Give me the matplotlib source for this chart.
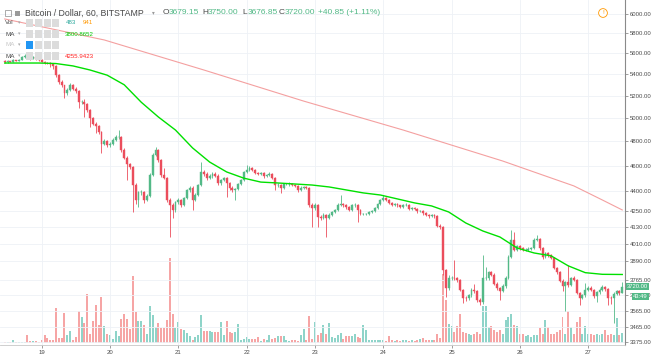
import numpy as np
import pandas as pd
import matplotlib
matplotlib.use("Agg")
import matplotlib.pyplot as plt
import matplotlib.dates as mdates
from matplotlib.patches import Rectangle
from matplotlib.ticker import FixedLocator, FuncFormatter, NullLocator

plt.rcParams['font.family'] = ['Liberation Sans', 'DejaVu Sans']

W, H = 653, 357

# hourly BTC/USD candles, 18 Nov 11:00 -> 27 Nov 12:00 (one row per day)
first_open = 5525
closes = [
    5515, 5525, 5520, 5535, 5530, 5540, 5560, 5570, 5555, 5550, 5560, 5548, 5540,
    5520, 5510, 5505, 5495, 5480, 5390, 5330, 5295, 5220, 5255, 5300, 5265, 5240, 5145, 5145, 5125, 5070, 5000, 4950, 4930, 4880, 4780, 4800, 4770,
    4780, 4810, 4835, 4835, 4730, 4665, 4610, 4590, 4450, 4330, 4390, 4390, 4330, 4365, 4525, 4685, 4725, 4645, 4525, 4500, 4330, 4295, 4255, 4315,
    4330, 4295, 4345, 4405, 4425, 4330, 4370, 4445, 4550, 4535, 4500, 4515, 4535, 4520, 4460, 4485, 4500, 4460, 4425, 4405, 4415, 4455, 4485, 4550,
    4565, 4580, 4565, 4540, 4535, 4540, 4515, 4525, 4535, 4500, 4445, 4445, 4425, 4455, 4455, 4455, 4445, 4440, 4405, 4425, 4430, 4425, 4295, 4270,
    4295, 4205, 4200, 4220, 4200, 4220, 4240, 4255, 4295, 4300, 4290, 4275, 4255, 4290, 4295, 4255, 4225, 4225, 4225, 4240, 4245, 4270, 4300, 4330,
    4345, 4330, 4310, 4295, 4300, 4290, 4280, 4295, 4295, 4265, 4270, 4265, 4245, 4245, 4230, 4220, 4210, 4220, 4210, 4140, 4130, 3830, 3710, 3775,
    3780, 3775, 3765, 3700, 3650, 3645, 3665, 3700, 3690, 3635, 3620, 3775, 3775, 3815, 3800, 3740, 3710, 3695, 3725, 3780, 3920, 4040, 3970, 3995,
    3980, 3970, 3970, 3975, 3980, 4040, 4045, 3980, 3920, 3945, 3930, 3915, 3845, 3815, 3760, 3725, 3750, 3730, 3775, 3765, 3680, 3650, 3665, 3700,
    3715, 3700, 3660, 3685, 3700, 3720, 3705, 3650, 3645, 3675, 3690, 3679.15, 3720,
]
highs = [
    5535, 5532, 5530, 5542, 5540, 5548, 5575, 5590, 5578, 5562, 5570, 5565, 5555,
    5548, 5528, 5520, 5512, 5500, 5485, 5400, 5345, 5300, 5270, 5312, 5310, 5275, 5250, 5165, 5170, 5135, 5080, 5010, 4965, 4940, 4890, 4820, 4810,
    4795, 4825, 4850, 4895, 4845, 4740, 4675, 4625, 4600, 4460, 4400, 4405, 4400, 4380, 4540, 4700, 4753, 4735, 4655, 4581, 4510, 4345, 4305, 4325,
    4345, 4340, 4355, 4415, 4440, 4435, 4385, 4455, 4629, 4565, 4545, 4530, 4548, 4545, 4530, 4495, 4512, 4510, 4470, 4435, 4425, 4465, 4495, 4560,
    4605, 4600, 4590, 4575, 4552, 4550, 4548, 4535, 4545, 4542, 4510, 4458, 4452, 4465, 4465, 4466, 4462, 4455, 4448, 4435, 4440, 4438, 4432, 4305,
    4305, 4300, 4215, 4230, 4228, 4230, 4250, 4265, 4305, 4369, 4310, 4298, 4282, 4300, 4305, 4302, 4262, 4235, 4235, 4248, 4255, 4280, 4310, 4340,
    4369, 4352, 4338, 4318, 4308, 4306, 4296, 4302, 4305, 4300, 4280, 4278, 4272, 4255, 4252, 4238, 4228, 4228, 4226, 4215, 4150, 4135, 3840, 3800,
    3790, 3899, 3785, 3772, 3708, 3660, 3675, 3712, 3740, 3698, 3645, 3933, 3852, 3825, 3825, 3808, 3748, 3718, 3735, 3790, 3930, 4109, 4094, 4005,
    4005, 3990, 3982, 3985, 3990, 4050, 4073, 4052, 3988, 3955, 3952, 3938, 3922, 3852, 3822, 3768, 3760, 3866, 3785, 3790, 3772, 3688, 3675, 3742,
    3728, 3722, 3708, 3695, 3712, 3732, 3728, 3712, 3660, 3685, 3700, 3698, 3750,
]
lows = [
    5505, 5508, 5512, 5515, 5522, 5525, 5535, 5552, 5545, 5540, 5545, 5540, 5530,
    5512, 5500, 5495, 5470, 5450, 5370, 5310, 5280, 5180, 5210, 5245, 5250, 5225, 5090, 5120, 5010, 5050, 4920, 4935, 4870, 4865, 4705, 4765, 4750,
    4755, 4770, 4800, 4820, 4715, 4650, 4485, 4570, 4240, 4300, 4278, 4370, 4310, 4320, 4355, 4515, 4675, 4630, 4510, 4490, 4315, 4059, 4197, 4240,
    4300, 4280, 4285, 4335, 4395, 4256, 4320, 4360, 4435, 4520, 4485, 4490, 4505, 4510, 4445, 4450, 4475, 4354, 4410, 4395, 4331, 4405, 4445, 4475,
    4540, 4555, 4555, 4530, 4525, 4528, 4505, 4508, 4515, 4490, 4408, 4430, 4385, 4415, 4445, 4442, 4435, 4430, 4395, 4398, 4415, 4415, 4280, 4131,
    4255, 4131, 4185, 4190, 4059, 4190, 4210, 4232, 4245, 4285, 4280, 4265, 4245, 4248, 4280, 4167, 4215, 4215, 4218, 4218, 4232, 4238, 4262, 4292,
    4322, 4320, 4300, 4285, 4288, 4280, 4270, 4272, 4285, 4255, 4258, 4255, 4235, 4238, 4222, 4212, 4200, 4202, 4200, 4130, 4115, 3800, 3654, 3700,
    3765, 3765, 3750, 3690, 3616, 3630, 3635, 3655, 3680, 3625, 3605, 3612, 3765, 3765, 3790, 3730, 3700, 3635, 3685, 3715, 3770, 3910, 3960, 3960,
    3970, 3960, 3960, 3962, 3965, 3972, 4030, 3970, 3905, 3910, 3920, 3905, 3835, 3805, 3750, 3690, 3565, 3720, 3722, 3755, 3672, 3600, 3640, 3655,
    3690, 3690, 3650, 3620, 3675, 3690, 3695, 3600, 3610, 3491, 3665, 3668, 3676.85,
]
volumes = [
    48, 52, 45, 140, 50, 41, 55, 47, 385, 95, 90, 100, 50,
    145, 380, 240, 150, 140, 1680, 245, 235, 1440, 390, 575, 150, 290, 1540, 1250, 960, 2350, 430, 1060, 1820, 865, 2210, 815, 430,
    385, 195, 575, 335, 1150, 1390, 1155, 670, 3215, 1490, 1055, 1060, 865, 430, 1775, 1345, 770, 960, 720, 725, 1105, 4080, 1390, 720,
    1010, 670, 625, 480, 335, 145, 290, 385, 1345, 575, 580, 575, 530, 525, 530, 1005, 385, 1055, 530, 480, 525, 910, 145, 190,
    290, 195, 190, 195, 285, 95, 190, 145, 385, 190, 240, 335, 340, 335, 145, 95, 145, 140, 95, 385, 670, 145, 1295, 195,
    1010, 385, 480, 865, 430, 960, 290, 240, 385, 480, 190, 335, 340, 335, 430, 290, 240, 865, 625, 145, 140, 145, 150, 140,
    145, 95, 335, 145, 95, 145, 95, 140, 145, 95, 150, 95, 145, 190, 240, 145, 140, 145, 150, 430, 240, 3310, 2065, 910,
    815, 530, 815, 1390, 525, 480, 430, 385, 435, 530, 430, 1775, 1780, 770, 815, 625, 530, 625, 430, 1105, 1250, 1390, 865, 815,
    430, 435, 335, 385, 290, 385, 380, 720, 430, 1105, 770, 430, 435, 530, 625, 1250, 430, 1535, 770, 430, 1010, 1250, 430, 815,
    430, 435, 385, 430, 385, 435, 625, 385, 430, 385, 1200, 385, 483,
]

# moving averages (candle index -> value)
ma_fast_idx = [0, 12, 18, 24, 30, 36, 42, 48, 54, 60, 66, 72, 78, 84, 90, 96, 102, 108, 114,
               120, 126, 132, 138, 144, 150, 156, 162, 168, 174, 180, 186, 192, 198, 204, 210, 217]
ma_fast = [5506, 5506, 5501, 5478, 5439, 5390, 5300, 5140, 5009, 4896, 4745, 4629, 4549, 4500,
           4469, 4462, 4454, 4446, 4431, 4408, 4385, 4369, 4339, 4309, 4286, 4241, 4160, 4102,
           4059, 3982, 3947, 3927, 3859, 3813, 3802, 3800.8652]
ma_slow_idx = [0, 35, 70, 105, 140, 175, 190, 200, 210, 217]
ma_slow = [5948, 5733, 5439, 5151, 4896, 4637, 4517, 4439, 4331, 4255.9423]

price_ticks = [3375, 3465, 3565, 3665, 3765, 3890, 4010, 4130, 4250, 4400,
               4600, 4800, 5000, 5200, 5400, 5600, 5800, 6000]
day_labels = ["19", "20", "21", "22", "23", "24", "25", "26", "27"]

GREEN = "#53b987"
RED = "#eb4d5c"
VOL_UP = "#8fd4c9"
VOL_DN = "#f6a5a5"
TXT = "#4a4a4a"

times = pd.date_range("2018-11-18 11:00", periods=len(closes), freq="h")
x = mdates.date2num(times)
hr = 1 / 24
o = np.array([first_open] + closes[:-1], dtype=float)
c = np.array(closes, dtype=float)
up = c >= o
cols = np.where(up, GREEN, RED)

fig = plt.figure(figsize=(W / 100, H / 100), dpi=100)
fig.patch.set_facecolor("white")
rect = [0, 12 / H, 625 / W, 345 / H]
xlim = (x[0] - 1.65 * hr, x[0] + 217.96 * hr)

# volume underneath
axv = fig.add_axes(rect)
axv.bar(x, volumes, width=0.7 * hr, color=np.where(up, VOL_UP, VOL_DN), linewidth=0)
axv.set_ylim(-110, 16450)
axv.set_xlim(*xlim)
axv.axis("off")

ax = fig.add_axes(rect)
ax.patch.set_alpha(0)
ax.set_yscale("log")
ax.set_ylim(3359, 6149)
ax.set_xlim(*xlim)

ax.vlines(x, lows, highs, colors=cols, linewidth=0.6, zorder=3)
ax.bar(x, np.abs(c - o), bottom=np.minimum(o, c), width=0.65 * hr,
       color=cols, edgecolor=cols, linewidth=0.3, zorder=4)

ax.plot(x[ma_slow_idx], ma_slow, color="#f4a0a0", lw=0.8, zorder=5)
ax.plot(x[ma_fast_idx], ma_fast, color="#00e000", lw=1.0, zorder=5)

# axes cosmetics
ax.yaxis.tick_right()
ax.yaxis.set_major_locator(FixedLocator(price_ticks))
ax.yaxis.set_minor_locator(NullLocator())
ax.yaxis.set_major_formatter(FuncFormatter(lambda v, p: f"{v:.2f}"))
midnights = x[times.hour == 0]
ax.set_xticks(midnights)
ax.set_xticklabels(day_labels)
ax.xaxis.set_minor_locator(NullLocator())
ax.tick_params(axis="both", labelsize=4.3, labelcolor=TXT, colors="#777777",
               length=2.5, width=0.5, pad=1.2)
ax.grid(True, color="#eef1f6", lw=0.6, zorder=0)
for s in ("left", "top"):
    ax.spines[s].set_visible(False)
ax.spines["right"].set_color("#8a8a8a")
ax.spines["right"].set_linewidth(0.8)
ax.spines["bottom"].set_color("#c8c8c8")
ax.spines["bottom"].set_linewidth(0.6)

# last price / countdown boxes on the price scale
yt = ax.get_yaxis_transform()
ax.text(1.003, closes[-1], f"{closes[-1]:.2f}", transform=yt, fontsize=4.2,
        color="white", va="center", ha="left", clip_on=False, zorder=10,
        bbox=dict(boxstyle="square,pad=0.15", fc=GREEN, ec="none"))
ax.annotate("43:49", xy=(1.0, closes[-1]), xycoords=yt, xytext=(8, -10),
            textcoords="offset pixels", fontsize=4.2, color="white", va="center",
            ha="left", annotation_clip=False, zorder=10,
            bbox=dict(boxstyle="square,pad=0.15", fc=GREEN, ec="none"))


def fx(px):
    return px / W


def fy(py):
    return 1 - py / H


# header
fig.add_artist(Rectangle((fx(5), fy(16)), fx(6), 6 / H, transform=fig.transFigure,
                         fill=False, ec="#8a8a8a", lw=0.5))
fig.add_artist(Rectangle((fx(15), fy(15.5)), fx(5), 5 / H, transform=fig.transFigure,
                         fc="#9a9a9a", ec="none"))
fig.text(fx(25), fy(13), "Bitcoin / Dollar, 60, BITSTAMP", fontsize=6.3, color=TXT, va="center")
fig.text(fx(152), fy(13), "\u25be", fontsize=4, color="#999999", va="center")
ohlc = [("O", 163, "3679.15"), ("H", 202, "3750.00"), ("L", 242, "3676.85"), ("C", 279, "3720.00")]
for lab, px0, val in ohlc:
    fig.text(fx(px0), fy(13), lab, fontsize=6, color=TXT, va="center")
    fig.text(fx(px0 + 6), fy(13), val, fontsize=6, color=GREEN, va="center")
fig.text(fx(318), fy(13), "+40.85 (+1.11%)", fontsize=6, color=GREEN, va="center")

# indicator legend rows
rows = [
    (23, "Vol", TXT, [("483", "#26a69a", 66), ("941", "#ff9800", 83)], False),
    (34, "MA", TXT, [("3800.8652", "#00c800", 65)], False),
    (45, "MA", "#c8c8c8", [], True),
    (56, "MA", TXT, [("4255.9423", "#ff2020", 65)], False),
]
for py, name, ncol, vals, active in rows:
    fig.text(fx(5), fy(py), name, fontsize=4.5, color=ncol, va="center")
    fig.text(fx(18), fy(py), "\u25be", fontsize=3.5, color="#aaaaaa", va="center")
    for k, bx in enumerate((26, 35, 43.5, 52)):
        fc = "#2196f3" if (active and k == 0) else "#dcdcdc"
        fig.add_artist(Rectangle((fx(bx), fy(py + 3.5)), fx(7), 7 / H,
                                 transform=fig.transFigure, fc=fc, ec="none"))
    for txt, col, px0 in vals:
        fig.text(fx(px0), fy(py), txt, fontsize=4.4, color=col, va="center")

# warning badge
fig.text(fx(603), fy(13), "!", fontsize=4.5, color="#ff9800", ha="center", va="center",
         bbox=dict(boxstyle="circle,pad=0.3", fc="white", ec="#ff9800", lw=0.6))

fig.savefig("out.png", dpi=100)
